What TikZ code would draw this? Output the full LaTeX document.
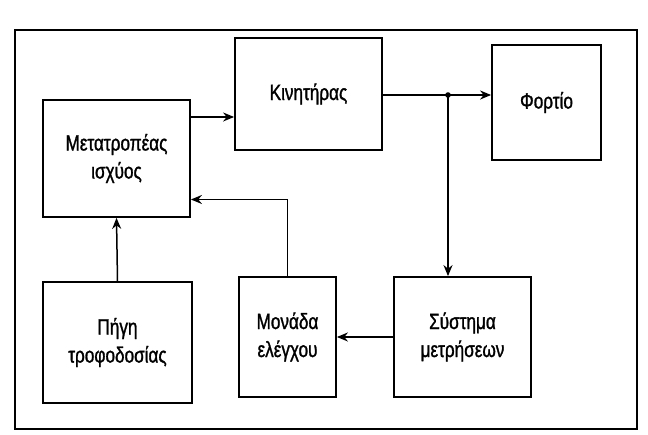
\documentclass[tikz,border=0pt]{standalone}
\usepackage{fontspec}
\setmainfont{Liberation Sans}[FakeStretch=0.78, FakeBold=1.2]
\usetikzlibrary{arrows.meta}

\begin{document}
\begin{tikzpicture}[x=1pt, y=-1pt, font=\fontsize{22}{28}\selectfont,
		blk/.style={draw, line width=1.8pt, align=center, inner sep=0pt},
		arr/.style={line width=1.5pt, -{Stealth[length=11pt, width=9pt]}}]
		\useasboundingbox (0,0) rectangle (648,435);
		\draw[line width=1.8pt] (15,30) rectangle (637,429);

		\node[blk, minimum width=147, minimum height=117] (conv) at (116.5,158.5) {Μετατροπέας\\ισχύος};
		\node[blk, minimum width=147, minimum height=112] (motor) at (308.5,94) {Κινητήρας};
		\node[blk, minimum width=109, minimum height=115] (load) at (546.5,102.5) {Φορτίο};
		\node[blk, minimum width=149, minimum height=121] (supply) at (117.5,342.5) {Πήγη\\τροφοδοσίας};
		\node[blk, minimum width=97, minimum height=120] (ctrl) at (287.5,337) {Μονάδα\\ελέγχου};
		\node[blk, minimum width=137, minimum height=120] (meas) at (462.5,337) {Σύστημα\\μετρήσεων};

		\coordinate (split) at (448,95);

		\draw[arr] ([yshift=41.5pt]conv.east) -- ([yshift=41.5pt]conv.east -| motor.west);
		\draw[line width=1.5pt] (motor.east |- split) -- (split);
		\draw[arr] (split) -- (split -| load.west);
		\draw[arr] (split) -- (split |- meas.north);
		\fill (split) circle (2.8pt);
		\draw[arr] (meas.west) -- (ctrl.east);
		\draw[arr] (ctrl.north) |- ([yshift=-41pt]conv.east);
		\draw[arr] (supply.north) -- (conv.south);
	\end{tikzpicture}
\end{document}
